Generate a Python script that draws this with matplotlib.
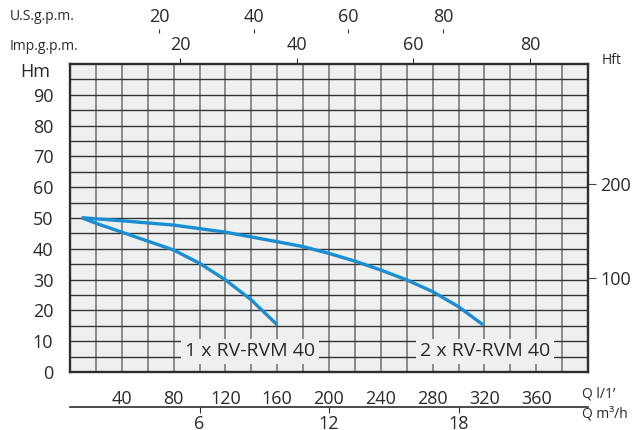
import numpy as np
import matplotlib.pyplot as plt

plt.rcParams['font.family'] = ['Open Sans', 'DejaVu Sans']

# pump curves (Q in l/min, H in m)
q_1x = [9, 20, 40, 80, 100, 120, 140, 160]
h_1x = [50.1, 48.3, 45.4, 39.6, 35.3, 29.9, 23.4, 15.3]
q_2x = [9, 40, 80, 120, 160, 180, 200, 220, 240, 260, 280, 300, 319]
h_2x = [50.1, 49.1, 47.7, 45.4, 42.3, 40.7, 38.5, 36.0, 33.1, 29.9, 26.1, 21.2, 15.3]
labels = ["1 x RV-RVM 40", "2 x RV-RVM 40"]

q_ticks = [40, 80, 120, 160, 200, 240, 280, 320, 360]
h_ticks = [0, 10, 20, 30, 40, 50, 60, 70, 80, 90]
hft_ticks = [100, 200]
m3h_ticks = [6, 12, 18]
imp_ticks = [20, 40, 60, 80]
us_ticks = [20, 40, 60, 80]

txt = '#2a2a2a'
blue = '#1a8dd3'
bg = '#eef0ef'

fig = plt.figure(figsize=(6.32, 4.3), dpi=100)
pos = [70/632, 58/430, 518/632, 308/430]
ax = fig.add_axes(pos)
ax.set_facecolor(bg)
ax.set_xlim(0, 400)
ax.set_ylim(0, 100)

ax.set_xticks(q_ticks)
ax.set_xticks(np.arange(20, 400, 20), minor=True)
ax.set_yticks(h_ticks)
ax.set_yticks(np.arange(5, 100, 5), minor=True)
ax.grid(True, which='both', axis='x', color='#6f6f6f', lw=1.1)
ax.grid(True, which='both', axis='y', color='#343434', lw=1.0)
ax.tick_params(which='both', length=0)
ax.tick_params(axis='y', pad=12, labelsize=13, labelcolor=txt)
ax.tick_params(axis='x', pad=13, labelsize=13, labelcolor=txt)
for s in ax.spines.values():
    s.set_color('#2e2e2e')
    s.set_linewidth(1.7)
    s.set_zorder(5)

ax.plot(q_1x, h_1x, color=blue, lw=2.4, solid_capstyle='butt', zorder=4)
ax.plot(q_2x, h_2x, color=blue, lw=2.4, solid_capstyle='butt', zorder=4)

ax.text(139, 6.8, labels[0], fontsize=14, color=txt, ha='center', va='center', zorder=6,
        bbox=dict(facecolor=bg, edgecolor='none', pad=2.5))
ax.text(320.5, 6.8, labels[1], fontsize=14, color=txt, ha='center', va='center', zorder=6,
        bbox=dict(facecolor=bg, edgecolor='none', pad=2.5))

# feet on the right
ax2 = ax.twinx()
ax2.set_ylim(0, 100/0.3048)
ax2.set_yticks(hft_ticks)
for s in ax2.spines.values():
    s.set_visible(False)
ax2.tick_params(axis='y', direction='out', length=6, width=0.8, color='#444', pad=3,
                labelsize=13, labelcolor=txt)

# m3/h below
sec = ax.secondary_xaxis(-0.1136, functions=(lambda q: q*0.06, lambda m: m/0.06))
sec.set_xticks(m3h_ticks)
sec.spines['bottom'].set_color('#2e2e2e')
sec.spines['bottom'].set_linewidth(1.2)
sec.tick_params(direction='out', length=4, width=0.8, color='#2e2e2e', pad=2,
                labelsize=13, labelcolor=txt)

# Imp. g.p.m. on top
axi = fig.add_axes(pos, frameon=False)
axi.set_xlim(1.14, 89.94)
axi.xaxis.tick_top()
axi.set_xticks(imp_ticks)
axi.set_yticks([])
axi.tick_params(axis='x', direction='out', length=4, width=0.8, color='#2e2e2e', pad=3,
                labelsize=13, labelcolor=txt)

# U.S. g.p.m. on top
axu = fig.add_axes(pos, frameon=False)
axu.set_xlim(1.2, 110.6)
axu.xaxis.tick_top()
axu.set_xticks(us_ticks)
axu.set_yticks([])
axu.spines['top'].set_visible(True)
axu.spines['top'].set_position(('axes', 1.1006))
axu.spines['top'].set_color('#2e2e2e')
axu.spines['top'].set_linewidth(1.2)
axu.tick_params(axis='x', direction='out', length=3, width=0.8, color='#2e2e2e', pad=2,
                labelsize=13, labelcolor=txt)

fig.text(10/632, 1 - 17/430, 'U.S.g.p.m.', fontsize=10, color=txt, va='center')
fig.text(10/632, 1 - 46/430, 'Imp.g.p.m.', fontsize=10, color=txt, va='center')
fig.text(20/632, 1 - 72/430, 'Hm', fontsize=13, color=txt, va='center')
fig.text(602/632, 1 - 61/430, 'Hft', fontsize=10, color=txt, va='center')
fig.text(582/632, 1 - 394/430, 'Q l/1’', fontsize=10, color=txt, va='center')
fig.text(582/632, 1 - 414/430, 'Q m³/h', fontsize=10, color=txt, va='center')

fig.savefig('out.png', dpi=100)
